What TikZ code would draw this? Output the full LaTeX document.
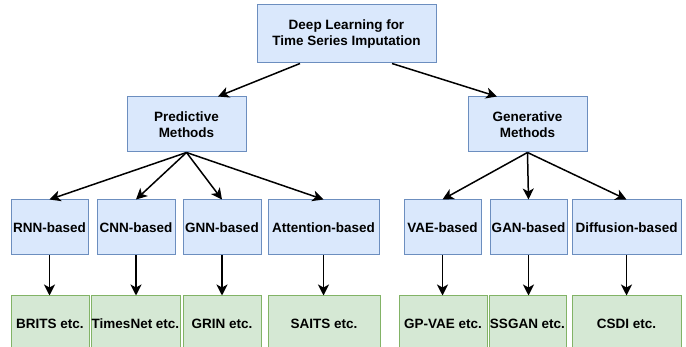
\documentclass[tikz,border=0pt]{standalone}
\usepackage{fontspec}
\setmainfont{Liberation Sans}
\usetikzlibrary{arrows.meta}
\definecolor{bluefill}{HTML}{DAE8FC}
\definecolor{bluedraw}{HTML}{6C8EBF}
\definecolor{greenfill}{HTML}{D5E8D4}
\definecolor{greendraw}{HTML}{82B366}
\tikzset{
  box/.style={rectangle, inner sep=0pt, line width=1pt, font=\fontsize{13.5}{16}\selectfont\bfseries, align=center, minimum height=55pt},
  bluebox/.style={box, fill=bluefill, draw=bluedraw},
  greenbox/.style={box, fill=greenfill, draw=greendraw},
  conn/.style={line width=1.5pt, -{Stealth[length=11pt,width=11pt,inset=3pt]}}
}
\begin{document}
\begin{tikzpicture}[x=1pt,y=-1pt]
\useasboundingbox (0,0) rectangle (686,347);
% level 0
\node[bluebox, minimum width=179pt, minimum height=58pt] (top) at (346.5,34) {Deep Learning for\\Time Series Imputation};
% level 1
\node[bluebox, minimum width=119pt] (pred) at (186.5,124.5) {Predictive\\Methods};
\node[bluebox, minimum width=119pt] (gen) at (527.5,124.5) {Generative\\Methods};
% level 2
\node[bluebox, minimum width=77pt] (rnn) at (49.5,227.5) {RNN-based};
\node[bluebox, minimum width=78pt] (cnn) at (136,227.5) {CNN-based};
\node[bluebox, minimum width=78pt] (gnn) at (222,227.5) {GNN-based};
\node[bluebox, minimum width=111pt] (att) at (323.5,227.5) {Attention-based};
\node[bluebox, minimum width=77pt] (vae) at (442.5,227.5) {VAE-based};
\node[bluebox, minimum width=77pt] (gan) at (528.5,227.5) {GAN-based};
\node[bluebox, minimum width=109pt] (dif) at (626.5,227.5) {Diffusion-based};
% level 3
\node[greenbox, minimum width=78pt] (brits) at (50,323.5) {BRITS etc.};
\node[greenbox, minimum width=89pt] (times) at (135.5,323.5) {TimesNet etc.};
\node[greenbox, minimum width=78pt] (grin) at (222,323.5) {GRIN etc.};
\node[greenbox, minimum width=112pt] (saits) at (324,323.5) {SAITS etc.};
\node[greenbox, minimum width=88pt] (gpvae) at (443,323.5) {GP-VAE etc.};
\node[greenbox, minimum width=77pt] (ssgan) at (527.5,323.5) {SSGAN etc.};
\node[greenbox, minimum width=109pt] (csdi) at (626.5,323.5) {CSDI etc.};
% connectors from top
\coordinate (tl) at ([xshift=-46.5pt]top.south);
\coordinate (tr) at ([xshift=45.5pt]top.south);
\coordinate (pl) at ([xshift=31.5pt]pred.north);
\coordinate (gl) at ([xshift=-30.5pt]gen.north);
\draw[conn] (tl) -- (pl);
\draw[conn] (tr) -- (gl);
% from predictive / generative
\foreach \t in {rnn,cnn,gnn,att} \draw[conn] (pred.south) -- (\t.north);
\foreach \t in {vae,gan,dif} \draw[conn] (gen.south) -- (\t.north);
% to examples
\draw[conn] (rnn.south) -- (brits.north -| rnn.south);
\draw[conn] (cnn.south) -- (times.north -| cnn.south);
\draw[conn] (gnn.south) -- (grin.north);
\draw[conn] (att.south) -- (saits.north -| att.south);
\draw[conn] (vae.south) -- (gpvae.north -| vae.south);
\draw[conn] (gan.south) -- (ssgan.north -| gan.south);
\draw[conn] (dif.south) -- (csdi.north);
\end{tikzpicture}
\end{document}
